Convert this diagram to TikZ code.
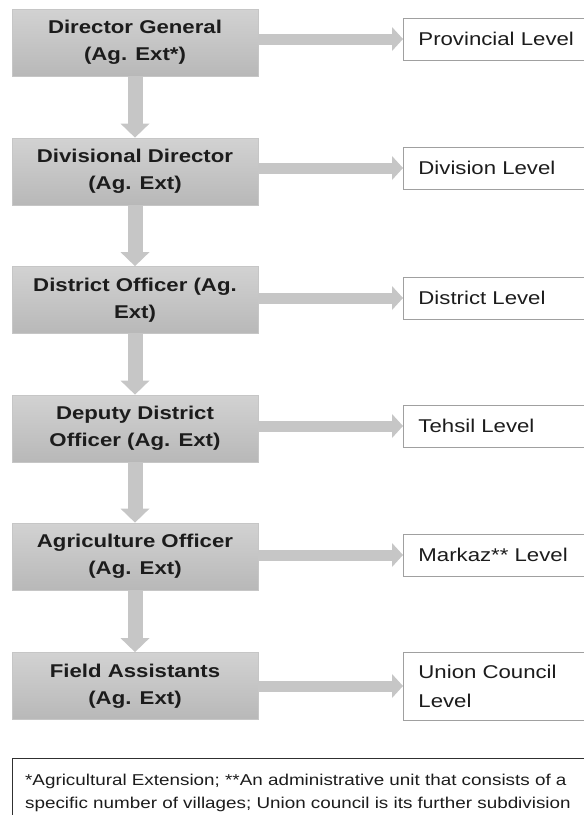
\documentclass[tikz,border=0pt]{standalone}
\usepackage{fontspec}
\setmainfont[FakeStretch=1.2]{Liberation Sans}
\usetikzlibrary{arrows.meta,calc}
\definecolor{boxtop}{HTML}{D2D2D2}
\definecolor{boxbot}{HTML}{B8B8B8}
\definecolor{boxedge}{HTML}{C6C6C6}
\definecolor{arrowgray}{HTML}{C6C6C6}
\definecolor{leveledge}{HTML}{A0A0A0}
\definecolor{inktext}{HTML}{1C1C1C}
\definecolor{noteedge}{HTML}{303030}
\begin{document}
\begin{tikzpicture}[x=1pt,y=-1pt,
  officebox/.style={draw=boxedge, line width=0.8pt, top color=boxtop, bottom color=boxbot,
    minimum width=246pt, minimum height=67pt, inner sep=0pt, align=center,
    text=inktext, font=\fontsize{18.5}{27}\selectfont\bfseries},
  levelbox/.style={draw=leveledge, line width=0.9pt, fill=white, anchor=west,
    minimum width=200pt, minimum height=42pt, text width=170pt, align=left,
    inner xsep=15pt, inner ysep=0pt, text=inktext,
    font=\fontsize{18.5}{29}\selectfont},
  downarrow/.style={draw=arrowgray, line width=15pt,
    -{Triangle[length=14pt 0 0, width=29pt 0 0, line width=0pt 0 0]}},
  sidearrow/.style={draw=arrowgray, line width=11pt,
    -{Triangle[length=11pt 0 0, width=24pt 0 0, line width=0pt 0 0]}}
]
\useasboundingbox (0,0) rectangle (584,815);
\clip (0,0) rectangle (584,815);

% chain of offices
\node[officebox] (dg)  at (135,42.5)  {Director General\\(Ag. Ext*)};
\node[officebox] (dd)  at (135,171.5) {Divisional Director\\(Ag. Ext)};
\node[officebox] (do)  at (135,300)   {District Officer (Ag.\\Ext)};
\node[officebox] (ddo) at (135,428.5) {Deputy District\\Officer (Ag. Ext)};
\node[officebox] (ao)  at (135,556.5) {Agriculture Officer\\(Ag. Ext)};
\node[officebox] (fa)  at (135,686)   {Field Assistants\\(Ag. Ext)};

% administrative levels
\node[levelbox] (prov) at (403,39)  {Provincial Level};
\node[levelbox] (div)  at (403,168) {Division Level};
\node[levelbox] (dist) at (403,298) {District Level};
\node[levelbox] (teh)  at (403,426) {Tehsil Level};
\node[levelbox] (mkz)  at (403,555) {Markaz** Level};
\node[levelbox, minimum height=68pt] (uc) at (403,686) {Union Council\\Level};

% downward arrows
\draw[downarrow] (dg.south)  -- (dd.north);
\draw[downarrow] (dd.south)  -- (do.north);
\draw[downarrow] (do.south)  -- (ddo.north);
\draw[downarrow] (ddo.south) -- (ao.north);
\draw[downarrow] (ao.south)  -- (fa.north);

% arrows to levels
\draw[sidearrow] (prov.west -| dg.east)  -- (prov.west);
\draw[sidearrow] (div.west -| dd.east)   -- (div.west);
\draw[sidearrow] (dist.west -| do.east)  -- (dist.west);
\draw[sidearrow] (teh.west -| ddo.east)  -- (teh.west);
\draw[sidearrow] (mkz.west -| ao.east)   -- (mkz.west);
\draw[sidearrow] (uc.west -| fa.east)    -- (uc.west);

% footnote
\node[draw=noteedge, line width=1.3pt, anchor=north west, minimum width=600pt,
  minimum height=68pt, text width=575pt, align=left, inner xsep=11pt, inner ysep=6pt,
  text=inktext, font=\fontsize{15.7}{23}\selectfont] (note) at (12,758)
  {*Agricultural Extension; **An administrative unit that consists of a\\
   specific number of villages; Union council is its further subdivision};
\end{tikzpicture}
\end{document}
